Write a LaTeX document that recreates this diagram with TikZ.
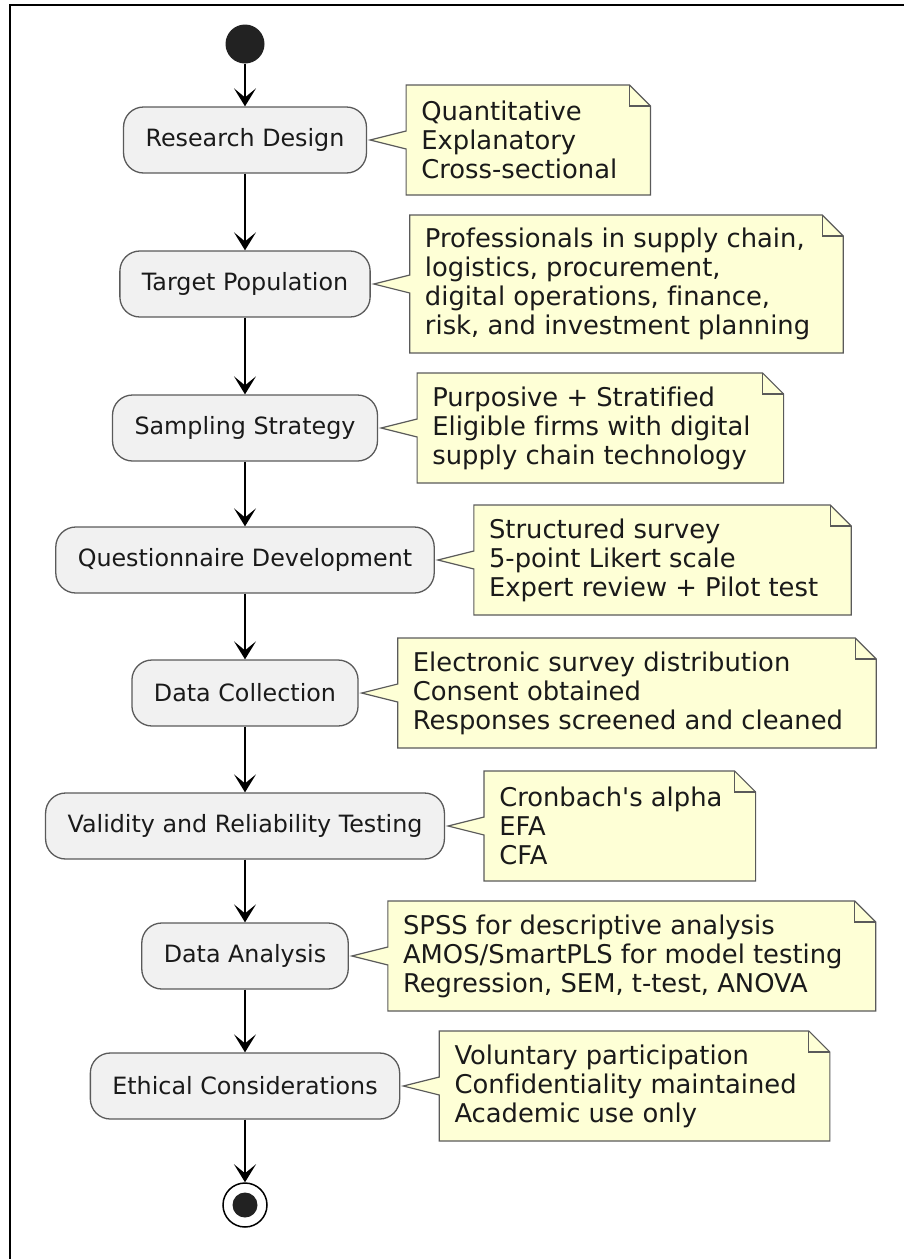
\documentclass[tikz,border=0pt]{standalone}
\usepackage{fontspec}
\setmainfont{DejaVu Sans}[Ligatures={NoCommon}]
\usetikzlibrary{arrows.meta,positioning,calc}
\pgfdeclarelayer{background}
\pgfsetlayers{background,main}

\definecolor{actfill}{HTML}{F1F1F1}
\definecolor{notefill}{HTML}{FEFFD6}
\definecolor{edgegray}{HTML}{5A5A5A}
\definecolor{ink}{HTML}{1A1A1A}
\definecolor{dotfill}{HTML}{222222}

\tikzset{
  act/.style={draw=edgegray, fill=actfill, line width=1.3pt, rounded corners=20pt,
    minimum height=66pt, inner xsep=22pt, font=\fontsize{23.8}{28}\selectfont, text=ink},
  notetext/.style={align=left, inner sep=0pt, font=\fontsize{25.8}{29}\selectfont, text=ink},
  notebox/.style={draw=edgegray, fill=notefill, line width=1.2pt, line join=miter},
  foldline/.style={draw=edgegray, line width=1.2pt},
  flow/.style={draw=black, line width=1.5pt, -{Stealth[length=18pt,width=22pt,inset=9pt]}},
}

% Note bubble behind a note text: #1 text node, #2 activity it points at, #3 half height (pt)
\newcommand\notebubble[3]{%
  \begin{pgfonlayer}{background}
    \filldraw[notebox] let \p1=(#1.west), \p2=(#1.east), \p3=(#2.east) in
      (\x1-15pt,\y3+#3pt) -- (\x2+12pt,\y3+#3pt) -- (\x2+33pt,\y3+#3pt-21pt)
      -- (\x2+33pt,\y3-#3pt) -- (\x1-15pt,\y3-#3pt) -- (\x1-15pt,\y3-9pt)
      -- (\x3+3pt,\y3) -- (\x1-15pt,\y3+9pt) -- cycle;
    \draw[foldline] let \p2=(#1.east), \p3=(#2.east) in
      (\x2+12pt,\y3+#3pt) -- (\x2+12pt,\y3+#3pt-21pt) -- (\x2+33pt,\y3+#3pt-21pt);
  \end{pgfonlayer}%
}

\begin{document}
\begin{tikzpicture}[x=1pt,y=-1pt]
  \useasboundingbox (0,0) rectangle (903,1259);

  % frame
  \draw[line width=2pt] (9.5,1262) -- (9.5,5) -- (906,5);

  % start and stop
  \node[circle, fill=dotfill, minimum size=39pt, inner sep=0pt] (start) at (245,44) {};
  \node[circle, draw=black, line width=1.5pt, minimum size=44pt, inner sep=0pt] (stop) at (245,1205) {};
  \node[circle, fill=dotfill, minimum size=25pt, inner sep=0pt] (stopdot) at (stop) {};

  % activities
  \node[act] (a1) at (245,140) {Research Design};
  \node[act] (a2) at (245,284) {Target Population};
  \node[act] (a3) at (245,428) {Sampling Strategy};
  \node[act] (a4) at (245,560) {Questionnaire Development};
  \node[act] (a5) at (245,693) {Data Collection};
  \node[act] (a6) at (245,826) {Validity and Reliability Testing};
  \node[act] (a7) at (245,956) {Data Analysis};
  \node[act] (a8) at (245,1086) {Ethical Considerations};

  % notes
  \node[notetext, right=54pt of a1] (n1) {Quantitative\\Explanatory\\Cross-sectional};
  \node[notetext, right=54pt of a2] (n2) {Professionals in supply chain,\\logistics, procurement,\\digital operations, finance,\\risk, and investment planning};
  \node[notetext, right=54pt of a3] (n3) {Purposive + Stratified\\Eligible firms with digital\\supply chain technology};
  \node[notetext, right=54pt of a4] (n4) {Structured survey\\5-point Likert scale\\Expert review + Pilot test};
  \node[notetext, right=54pt of a5] (n5) {Electronic survey distribution\\Consent obtained\\Responses screened and cleaned};
  \node[notetext, right=54pt of a6] (n6) {Cronbach\textquotesingle s alpha\\EFA\\CFA};
  \node[notetext, right=54pt of a7] (n7) {SPSS for descriptive analysis\\AMOS/SmartPLS for model testing\\Regression, SEM, t-test, ANOVA};
  \node[notetext, right=54pt of a8] (n8) {Voluntary participation\\Confidentiality maintained\\Academic use only};

  \notebubble{n1}{a1}{55}
  \notebubble{n2}{a2}{69}
  \notebubble{n3}{a3}{55}
  \notebubble{n4}{a4}{55}
  \notebubble{n5}{a5}{55}
  \notebubble{n6}{a6}{55}
  \notebubble{n7}{a7}{55}
  \notebubble{n8}{a8}{55}

  % flow
  \draw[flow] (start) -- (a1);
  \draw[flow] (a1) -- (a2);
  \draw[flow] (a2) -- (a3);
  \draw[flow] (a3) -- (a4);
  \draw[flow] (a4) -- (a5);
  \draw[flow] (a5) -- (a6);
  \draw[flow] (a6) -- (a7);
  \draw[flow] (a7) -- (a8);
  \draw[flow] (a8) -- (stop);
\end{tikzpicture}
\end{document}
